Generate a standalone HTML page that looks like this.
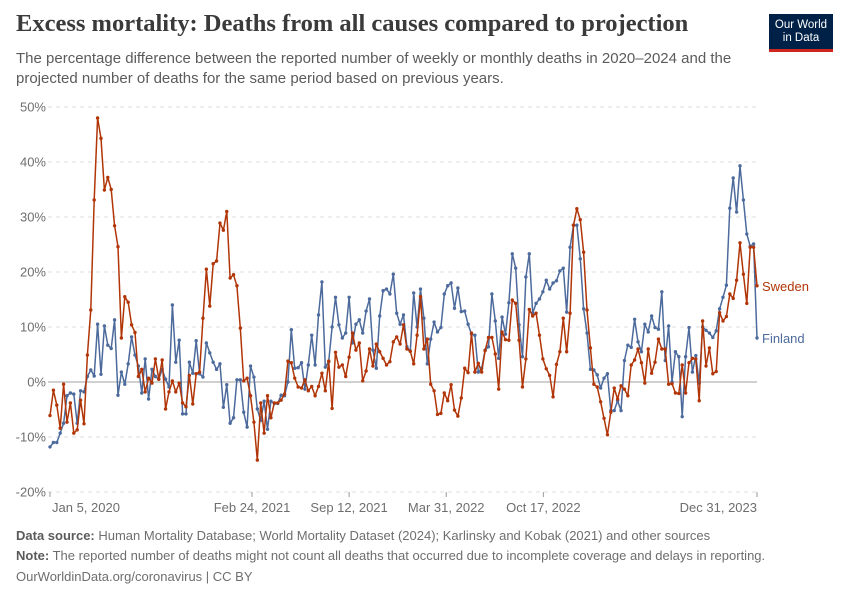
<!DOCTYPE html>
<html><head><meta charset="utf-8"><style>
body{margin:0;background:#fff;font-family:"Liberation Sans",sans-serif}
#wrap{position:relative;width:850px;height:600px;overflow:hidden}
.t{position:absolute;white-space:nowrap}
</style></head><body><div id="wrap">
<div class="t" style="left:16px;top:10px;font-family:'Liberation Serif',serif;font-weight:bold;font-size:24.5px;color:#3a3a3a">Excess mortality: Deaths from all causes compared to projection</div>
<div class="t" style="left:16px;top:49px;font-size:15px;line-height:20px;color:#5b5b5b;white-space:normal;width:740px">The percentage difference between the reported number of weekly or monthly deaths in 2020–2024 and the projected number of deaths for the same period based on previous years.</div>
<div style="position:absolute;left:769px;top:14px;width:64px;height:38px;background:#002147;border-bottom:3px solid #ce261e;box-sizing:border-box;color:#fff;font-size:11.5px;line-height:13px;text-align:center;padding-top:5px">Our World<br>in Data</div>
<svg id="chart" width="850" height="600" style="position:absolute;left:0;top:0"></svg>
<div class="t" style="left:16px;top:528px;font-size:13px;color:#6e6e6e"><b style="color:#5b5b5b">Data source:</b> Human Mortality Database; World Mortality Dataset (2024); Karlinsky and Kobak (2021) and other sources</div>
<div class="t" style="left:16px;top:548px;font-size:13px;color:#6e6e6e"><b style="color:#5b5b5b">Note:</b> The reported number of deaths might not count all deaths that occurred due to incomplete coverage and delays in reporting.</div>
<div class="t" style="left:16px;top:569px;font-size:13px;color:#6e6e6e">OurWorldinData.org/coronavirus | CC BY</div>
</div>
<script>
const yTicks=[-20,-10,0,10,20,30,40,50];
const xTickLabels=["Jan 5, 2020","Feb 24, 2021","Sep 12, 2021","Mar 31, 2022","Oct 17, 2022","Dec 31, 2023"];
const xTickDays=[0,416,616,816,1016,1456];
const seriesNames=["Sweden","Finland"];
const sweden=[-6.1,-1.5,-4.2,-8.4,-0.4,-7.3,-3.8,-9.3,-8.7,-3.3,-7.6,4.9,13.1,33.1,48,44.3,34.9,37.2,35,28.4,24.6,8,15.5,14.5,10.4,9,1,2.3,-1.8,0.7,-0.2,4.2,0.5,4,-4.9,-1.8,0.2,-1.8,-0.2,-3.8,-4.5,1.2,-4,1.5,1.8,11.6,20.5,13.8,21.5,22,28.9,27.6,31,18.9,19.5,17.5,9.8,0.2,0.7,-2.5,-7.3,-14.2,-3.8,-9.3,-2.5,-6.5,-3.8,-3.8,-3.3,-2.2,3.8,
3.5,0.7,-0.9,-1.1,0.4,-1.6,-0.8,-2.5,-0.8,1.6,-1.6,3.8,-4.8,5.4,2.7,3.1,1,4.5,8.9,5.8,7.1,0.2,2,6,2.9,6.9,5.5,4.3,3.1,3.7,7.3,8.2,6.9,10.4,6,5.6,3.3,8.5,15.5,6,7.8,-0.4,-1.6,-5.9,-5.7,-2,-3.4,-0.5,-5.1,-6.2,-2.9,2.5,1.7,8.9,1.8,3.4,1.8,5.7,8.1,8.1,5.1,-1.3,9.1,7.7,7.6,14.9,14.3,7.6,-0.9,4.2,13.2,
12,12.5,8.5,4.2,2.4,1.2,-2.7,3.2,5.5,11.6,5.5,12.5,28.5,31.5,29.5,23.6,13.1,6.2,-0.4,-0.9,-3.6,-6.6,-9.6,-5.5,-1.1,-3.1,-0.7,-1.3,-2.5,3.1,4,6,3.5,-0.2,6,1.6,3.6,7.8,6,6,-0.4,-0.3,-2,-2.1,3.1,-2,3.5,4.3,4.2,-3.4,11.1,2.9,6.2,1.5,1.9,12.6,11.1,11.9,16,15.2,18.5,25.3,19.6,14.3,24.5,24.5,17.5];
const finland=[-11.8,-11,-11,-9.3,-7.5,-2.5,-2,-2.2,-7.5,-1.6,-1.8,1,2.2,1.1,10.5,1.4,10.2,6.7,6.1,11.3,-2.4,1.8,-0.4,3.3,8.2,4.9,2.9,-2,4.2,-3.1,2.3,1,0.5,2.3,0.5,-0.9,14,3.6,7.6,-5.8,-5.8,3.6,1.6,7.5,1.5,0.9,7.1,5.3,3.6,2.3,3.3,-4.6,-0.5,-7.5,-6.5,0.4,0.4,-5.5,-8.2,2.9,0.9,-4.9,-7,-3.5,-8.6,-3.5,-3.9,-3.9,-2.4,-2.5,0,
9.5,2.5,2.6,3.5,-1.3,3.1,8.5,3.1,12.2,18.2,2.7,3.7,10,15.4,10.4,8,8.9,15.4,7.1,10.5,11.3,8.9,12.9,15.1,5.8,2.5,12,16.6,16.9,16,19.6,12.5,10.5,12.2,6.4,5.6,16.2,10,16.9,11.6,3.3,7.8,10.9,9.1,9.9,16,17.5,18,13.4,17.1,12.8,12.9,10.5,8.7,8.5,1.8,2.5,5.8,6.4,16,11.1,4.3,11.8,8.7,14.4,23.3,20.7,10.4,4.6,19.1,23.3,
12.5,14.3,15.1,16.4,18.5,16.9,18,18.4,20.2,20.7,12.7,24.5,28.5,28.5,22.4,13.3,8.9,2.3,2.2,1.3,-1.1,0.7,1.5,-5.2,-5.2,-3.4,-5.2,3.9,6.7,6.3,11.4,7.3,5.5,10.5,9.1,12,9.9,9.6,16.4,3.9,10.2,0,5.5,4.6,-6.3,4.6,9.9,1.8,4.8,-0.2,10,9.4,8.9,8.1,9.3,13.3,15.4,17.6,31.6,37.1,30.9,39.3,33.1,26.9,24.7,25.1,8];
const X0=50,X1=757,Y0=382,PX=5.5;
const yS=v=>Y0-v*PX;
const xDay=d=>X0+(X1-X0)*d/1456;
const xIdx=(i,n)=>X0+(X1-X0)*i/(n-1);
const svg=document.getElementById('chart');
const NS='http://www.w3.org/2000/svg';
function mk(tag,attrs){const e=document.createElementNS(NS,tag);for(const k in attrs)e.setAttribute(k,attrs[k]);svg.appendChild(e);return e;}
yTicks.forEach(v=>{
  const l=mk('line',{x1:X0-2,x2:X1,y1:yS(v),y2:yS(v),stroke:v===0?'#a1a1a1':'#dddddd','stroke-dasharray':v===0?'':'4,4','stroke-width':1});
  
  
  const t=mk('text',{x:46,y:yS(v)+4.5,'text-anchor':'end','font-size':13,fill:'#6e6e6e','font-family':'Liberation Sans, sans-serif'});
  t.textContent=v+'%';
  
  
});
xTickLabels.forEach((s,i)=>{
  const x=xDay(xTickDays[i]);
  const tk=mk('line',{x1:x,x2:x,y1:492,y2:497,stroke:'#999'});
  
  
  const anchor=i===0?'start':(i===xTickLabels.length-1?'end':'middle');
  const t=mk('text',{x:i===0?x+2:x,y:512,'text-anchor':anchor,'font-size':13,fill:'#6e6e6e','font-family':'Liberation Sans, sans-serif'});
  t.textContent=s;
  
  
});
[[finland,'#4c6a9c'],[sweden,'#b13507']].forEach(([data,col],si)=>{
  const n=data.length;
  const pts=data.map((v,i)=>xIdx(i,n).toFixed(1)+','+yS(v).toFixed(1)).join(' ');
  const pl=mk('polyline',{points:pts,fill:'none',stroke:col,'stroke-width':1.5,'stroke-linejoin':'round'});
  
  
  data.forEach((v,i)=>{
    const c=mk('circle',{cx:xIdx(i,n),cy:yS(v),r:1.7,fill:col});
    
    
  });
  const last=data[n-1];
  const t=mk('text',{x:762,y:yS(last)+5,'font-size':13,fill:col,'font-family':'Liberation Sans, sans-serif'});
  t.textContent=si===0?seriesNames[1]:seriesNames[0];
  
  
});
</script></body></html>
